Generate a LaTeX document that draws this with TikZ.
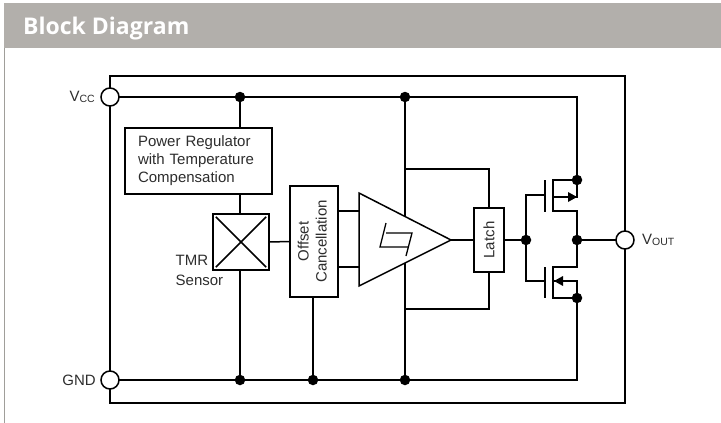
\documentclass[tikz,border=0pt]{standalone}
\usepackage{tikz}
\usepackage{xcolor}
\usepackage{fontspec}
\setmainfont{Liberation Sans}
\newfontfamily\titlefont{Open Sans}
\definecolor{headerColor}{RGB}{178, 175, 171}
\definecolor{labelColor}{RGB}{45, 45, 45}
\newcommand{\pinsub}[1]{\raisebox{-1.5pt}{\fontsize{10.5}{10.5}\selectfont #1}}
\tikzset{
    wire/.style={line width=1.5pt, black},
    blockbox/.style={rectangle, draw=black, line width=1.5pt, fill=white, inner sep=0pt, align=center, text=labelColor, font=\fontsize{15}{18}\selectfont},
    pin/.style={circle, draw=black, line width=1.5pt, fill=white, minimum size=18pt, inner sep=0pt},
    dot/.style={circle, fill=black, minimum size=10.5pt, inner sep=0pt},
    pinlabel/.style={text=labelColor, inner sep=0pt, font=\fontsize{15}{20}\selectfont}
}
\begin{document}
\begin{tikzpicture}[x=1pt, y=-1pt]
    \useasboundingbox (0,0) rectangle (721,423);
    % Page header
    \fill[headerColor] (3.5,3) rectangle (721,48);
    \fill[headerColor!90!black] (3.5,48) rectangle (5,423);
    \node[anchor=west, text=white, inner sep=0pt, font=\titlefont\bfseries\fontsize{23}{27}\selectfont] (title) at (23,29) {Block Diagram};

    % Package outline and pins
    \draw[wire] (110,76) rectangle (625,403);
    \coordinate (upperRail) at (577,97);
    \coordinate (lowerRail) at (577,380);
    \coordinate (upperBranch) at (405,169);
    \coordinate (lowerBranch) at (405,309);

    % Junctions
    \node[dot] (vccA) at (240,97) {};
    \node[dot] (vccB) at (405,97) {};
    \node[dot] (gndA) at (240,380) {};
    \node[dot] (gndB) at (313,380) {};
    \node[dot] (gndC) at (405,380) {};
    \node[dot] (gateDot) at (526,240) {};
    \node[dot] (drainDot) at (577,240) {};
    \node[dot] (sourceP) at (577,180) {};
    \node[dot] (sourceN) at (577,298) {};

    % Blocks
    \node[blockbox, minimum width=147pt, minimum height=66pt, align=left, text width=121pt] (regulator) at (198.5,161) {Power Regulator\\with Temperature\\Compensation};
    \node[blockbox, minimum width=56pt, minimum height=56pt] (sensor) at (241,242) {};
    \node[blockbox, minimum width=48pt, minimum height=111pt] (offset) at (314,241.5) {\rotatebox{90}{\begin{tabular}{@{}c@{}}Offset\\Cancellation\end{tabular}}};
    \node[blockbox, minimum width=30pt, minimum height=64pt] (latch) at (489,240) {\rotatebox{90}{Latch}};
    \node[pinlabel, align=left, anchor=north west] (sensorlabel) at (175.5,255) {TMR\\Sensor};

    % Amplifier corners
    \coordinate (ampTop) at (359,193);
    \coordinate (ampBottom) at (359,286);
    \coordinate (ampTip) at (451,240);
    \coordinate (ampInA) at (359,211);
    \coordinate (ampInB) at (359,267);

    % Wiring
    \draw[wire] (vccA |- regulator.north) -- (vccA);
    \draw[wire] (gndA) -- (gndA |- sensor.south);
    \draw[wire] (sensor.north -| vccA) -- (vccA |- regulator.south);
    \draw[wire] (sensor.east) -- (offset.west);
    \draw[wire] (offset.south -| gndB) -- (gndB);
    \draw[wire] (offset.east |- ampInA) -- (ampInA);
    \draw[wire] (offset.east |- ampInB) -- (ampInB);
    \draw[wire] (vccB) -- (gndC);
    \draw[wire] (upperBranch) -| (latch.north);
    \draw[wire] (lowerBranch) -| (latch.south);
    \draw[wire] (ampTip) -- (latch.west);
    \draw[wire] (latch.east) -- (gateDot);
    \draw[wire] (drainDot) -- (625,240);
    \draw[wire] (110,97) -- (upperRail) -- (sourceP);
    \draw[wire] (110,380) -- (lowerRail) -- (sourceN);

    % Amplifier with hysteresis mark
    \draw[wire, fill=white, line join=miter] (ampTop) -- (ampTip) -- (ampBottom) -- cycle;
    \draw[line width=1.3pt] (386,223) -- (380,247) -- (408,247);
    \draw[line width=1.3pt] (386,233) -- (412,233) -- (406,256);

    % Sensor cross
    \draw[wire, shorten >=5pt, shorten <=5pt] (sensor.north west) -- (sensor.south east);
    \draw[wire, shorten >=5pt, shorten <=5pt] (sensor.south west) -- (sensor.north east);

    % Output transistors
    \coordinate (gateP) at (545,195);
    \coordinate (gateN) at (545,281);
    \draw[wire] (gateP) -| (gateDot);
    \draw[wire] (gateN) -| (gateDot);
    \draw[wire] (545,180) -- (545,212);
    \draw[wire] (545,267) -- (545,298);
    \draw[wire] (sourceP) -- (553,180) -- (553,211) -- (577,211) -- (drainDot);
    \draw[wire] (sourceN) -- (553,298) -- (553,267) -- (577,267) -- (drainDot);
    \draw[wire] (sourceP) -- (577,197) -- (553,197);
    \draw[wire] (sourceN) -- (577,281) -- (553,281);
    \fill (577,197) -- (568,192) -- (568,202) -- cycle;
    \fill (554,281) -- (563,276) -- (563,286) -- cycle;

    % Pins
    \node[pin] (vcc) at (110,97) {};
    \node[pin] (gnd) at (110,380) {};
    \node[pin] (vout) at (625,240) {};
    \node[pinlabel, anchor=east] (vcclabel) at (95,97) {V\pinsub{CC}};
    \node[pinlabel, anchor=east] (gndlabel) at (96,380) {GND};
    \node[pinlabel, anchor=west] (voutlabel) at (642,240) {V\pinsub{OUT}};
\end{tikzpicture}
\end{document}
